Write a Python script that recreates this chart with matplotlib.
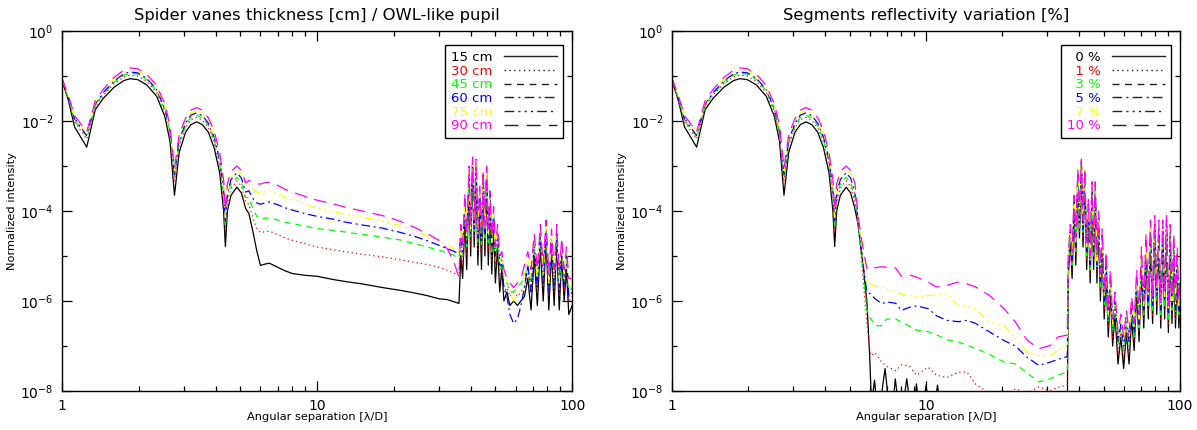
import matplotlib
matplotlib.use("Agg")
import matplotlib.pyplot as plt
from matplotlib.lines import Line2D
from matplotlib.ticker import LogLocator, FixedLocator, FuncFormatter, NullFormatter, LogFormatterSciNotation
import numpy as np

# all intensities are given as log10(normalized intensity)

# PSF core, same for both panels
core_sep = [1.00, 1.06, 1.12, 1.25, 1.35, 1.45, 1.60, 1.75, 1.85, 1.98, 2.15, 2.35, 2.53, 2.65, 2.76,
            2.88, 3.05, 3.20, 3.37, 3.55, 3.75, 3.95, 4.15, 4.30, 4.37, 4.45, 4.60, 4.85, 5.05, 5.25]
core_c0 = [-1.10, -1.55, -2.13, -2.58, -1.75, -1.50, -1.25, -1.10, -1.06, -1.08, -1.20, -1.45, -1.90, -2.45, -3.65,
           -2.70, -2.25, -2.08, -2.02, -2.08, -2.25, -2.60, -3.15, -4.00, -4.79, -4.00, -3.65, -3.47, -3.60, -3.95]
core_c1 = [-1.09, -1.52, -2.02, -2.40, -1.68, -1.43, -1.17, -1.02, -0.98, -1.00, -1.12, -1.37, -1.80, -2.30, -3.35,
           -2.55, -2.15, -1.97, -1.92, -1.98, -2.15, -2.48, -3.00, -3.75, -4.45, -3.80, -3.50, -3.33, -3.45, -3.80]
core_c2 = [-1.08, -1.50, -1.98, -2.35, -1.65, -1.40, -1.14, -0.98, -0.94, -0.96, -1.08, -1.33, -1.75, -2.25, -3.28,
           -2.48, -2.10, -1.92, -1.87, -1.93, -2.10, -2.42, -2.92, -3.62, -4.35, -3.70, -3.40, -3.25, -3.37, -3.70]
core_c3 = [-1.07, -1.48, -1.95, -2.32, -1.62, -1.37, -1.11, -0.95, -0.91, -0.93, -1.05, -1.30, -1.72, -2.20, -3.22,
           -2.42, -2.05, -1.87, -1.82, -1.88, -2.05, -2.36, -2.85, -3.52, -4.25, -3.60, -3.30, -3.15, -3.27, -3.58]
core_c4 = [-1.06, -1.46, -1.92, -2.28, -1.58, -1.33, -1.07, -0.91, -0.87, -0.89, -1.01, -1.26, -1.68, -2.15, -3.15,
           -2.36, -2.00, -1.82, -1.77, -1.83, -2.00, -2.30, -2.78, -3.42, -4.15, -3.50, -3.20, -3.07, -3.18, -3.48]
core_c5 = [-1.05, -1.44, -1.88, -2.24, -1.55, -1.30, -1.03, -0.87, -0.82, -0.84, -0.96, -1.21, -1.62, -2.10, -3.05,
           -2.30, -1.94, -1.76, -1.70, -1.76, -1.93, -2.22, -2.70, -3.30, -4.00, -3.40, -3.12, -3.00, -3.10, -3.38]

# left panel: spider vanes halo (5.4 - 36 lambda/D)
halo_sep_L = [5.40, 5.60, 5.80, 6.00, 6.25, 6.50, 7.00, 7.50, 8.00, 9.00, 10.0, 11.5, 13.0, 15.0, 18.0,
              21.0, 24.0, 27.0, 30.0, 32.5, 34.5, 35.8]
halo_L0 = [-4.05, -4.45, -4.88, -5.21, -5.18, -5.16, -5.25, -5.33, -5.39, -5.43, -5.45, -5.52, -5.57, -5.62, -5.70,
           -5.76, -5.82, -5.88, -5.95, -5.97, -6.02, -6.05]
halo_L1 = [-3.85, -4.15, -4.38, -4.48, -4.46, -4.45, -4.52, -4.60, -4.65, -4.73, -4.80, -4.86, -4.91, -4.96, -5.02,
           -5.08, -5.14, -5.19, -5.25, -5.32, -5.38, -5.43]
halo_L2 = [-3.70, -3.95, -4.12, -4.18, -4.16, -4.15, -4.20, -4.25, -4.28, -4.34, -4.39, -4.43, -4.47, -4.52, -4.58,
           -4.64, -4.72, -4.80, -4.87, -4.93, -4.99, -5.05]
halo_L3 = [-3.55, -3.72, -3.82, -3.85, -3.82, -3.80, -3.86, -3.93, -3.98, -4.06, -4.12, -4.18, -4.25, -4.31, -4.38,
           -4.47, -4.56, -4.66, -4.76, -4.84, -4.90, -4.95]
halo_L4 = [-3.42, -3.52, -3.58, -3.60, -3.57, -3.55, -3.62, -3.69, -3.74, -3.85, -3.94, -4.01, -4.08, -4.14, -4.22,
           -4.32, -4.43, -4.55, -4.66, -4.76, -4.85, -4.92]
halo_L5 = [-3.32, -3.38, -3.40, -3.40, -3.37, -3.36, -3.43, -3.52, -3.58, -3.68, -3.76, -3.84, -3.92, -4.00, -4.10,
           -4.22, -4.36, -4.50, -4.65, -4.85, -5.15, -5.45]

# left panel: segment speckles (36 - 100 lambda/D)
spk_sep_L = [36.0, 36.6, 37.2, 38.0, 38.6, 39.4, 40.0, 40.7, 41.3, 42.0, 42.7, 43.4, 44.1, 44.8, 45.5, 46.2,
             46.9, 47.6, 48.4, 49.2, 50.0, 51.0, 52.0, 53.0, 54.0, 55.5, 57.0, 59.0, 61.0, 63.0, 65.0, 67.0,
             69.0, 71.0, 73.0, 75.0, 77.0, 79.0, 81.0, 83.0, 85.0, 87.0, 89.0, 91.0, 93.0, 95.0, 97.0, 100.0]
spk_L0 = [-6.05, -5.0, -5.5, -4.2, -5.3, -3.4, -5.0, -3.0, -4.8, -3.1, -5.2, -3.8, -5.3, -3.4, -5.0, -3.3,
          -5.2, -3.9, -5.4, -4.3, -5.6, -4.8, -5.8, -5.3, -6.0, -5.8, -6.1, -6.0, -6.1, -6.0, -5.9, -5.5,
          -6.2, -5.0, -6.1, -4.8, -6.0, -4.6, -6.2, -4.9, -6.1, -4.7, -6.2, -5.0, -6.0, -5.3, -6.3, -6.1]
spk_L1 = [-5.45, -4.8, -5.2, -4.0, -5.0, -3.3, -4.8, -2.95, -4.6, -3.05, -4.9, -3.7, -5.0, -3.3, -4.8, -3.2,
          -4.9, -3.8, -5.1, -4.2, -5.3, -4.7, -5.5, -5.1, -5.8, -5.7, -5.9, -5.8, -5.9, -5.8, -5.7, -5.3,
          -5.8, -4.9, -5.8, -4.7, -5.7, -4.5, -5.9, -4.8, -5.8, -4.6, -5.9, -4.9, -5.8, -5.2, -6.0, -5.9]
spk_L2 = [-5.05, -4.6, -5.0, -3.9, -4.8, -3.25, -4.6, -2.95, -4.5, -3.0, -4.7, -3.6, -4.8, -3.25, -4.6, -3.15,
          -4.7, -3.7, -4.9, -4.1, -5.1, -4.6, -5.3, -5.0, -5.6, -5.6, -5.8, -5.8, -5.7, -5.6, -5.5, -5.2,
          -5.6, -4.8, -5.6, -4.6, -5.5, -4.4, -5.7, -4.7, -5.6, -4.5, -5.7, -4.8, -5.6, -5.1, -5.8, -5.7]
spk_L3 = [-4.95, -4.5, -4.9, -3.8, -4.7, -3.2, -4.5, -2.9, -4.4, -2.95, -4.6, -3.55, -4.7, -3.2, -4.5, -3.1,
          -4.6, -3.65, -4.8, -4.05, -5.0, -4.5, -5.2, -5.2, -5.7, -5.9, -6.3, -6.5, -6.4, -6.1, -5.7, -5.2,
          -5.8, -4.7, -5.7, -4.5, -5.6, -4.4, -5.8, -4.6, -5.7, -4.5, -5.8, -4.8, -5.7, -5.0, -5.9, -5.8]
spk_L4 = [-4.92, -4.4, -4.8, -3.7, -4.6, -3.1, -4.4, -2.85, -4.3, -2.9, -4.5, -3.5, -4.6, -3.15, -4.4, -3.05,
          -4.5, -3.6, -4.7, -4.0, -4.9, -4.4, -5.1, -5.0, -5.4, -5.6, -5.8, -6.0, -5.9, -5.7, -5.4, -5.0,
          -5.5, -4.6, -5.5, -4.4, -5.4, -4.3, -5.6, -4.5, -5.5, -4.4, -5.6, -4.7, -5.5, -4.9, -5.7, -5.6]
spk_L5 = [-5.45, -4.3, -4.7, -3.6, -4.5, -3.0, -4.3, -2.8, -4.2, -2.85, -4.4, -3.45, -4.5, -3.1, -4.3, -3.0,
          -4.4, -3.55, -4.6, -3.9, -4.8, -4.3, -5.0, -4.9, -5.3, -5.5, -5.6, -5.7, -5.6, -5.5, -5.2, -4.9,
          -5.3, -4.5, -5.3, -4.3, -5.2, -4.2, -5.4, -4.4, -5.3, -4.3, -5.4, -4.6, -5.3, -4.8, -5.5, -5.5]

# right panel: reflectivity halo; the 0 % curve has its own samples (small rings near 1e-8)
halo_sep_R0 = [5.40, 5.60, 5.85, 6.00, 6.10, 6.27, 6.45, 6.60, 6.90, 7.20, 7.35, 7.57, 7.85, 8.05, 8.40,
               8.75, 8.95, 9.17, 9.45, 9.70, 10.0, 10.4, 10.7, 11.1, 11.5, 12.0, 35.8]
halo_R0 = [-4.30, -5.00, -6.00, -7.20, -8.30, -7.76, -8.50, -8.30, -7.50, -8.50, -8.50, -7.73, -8.50, -8.50, -7.73,
           -8.50, -8.50, -7.84, -8.50, -8.50, -7.87, -8.50, -8.50, -7.87, -8.50, -8.60, -8.60]
halo_sep_R = [5.40, 5.60, 5.85, 6.05, 6.3, 6.7, 7.0, 7.6, 8.0, 8.6, 9.2, 10.2, 11.0, 12.1, 13.4, 14.5, 15.7,
              17.7, 20.3, 22.5, 25.0, 27.8, 30.8, 33.0, 35.8]
halo_R1 = [-4.30, -5.20, -6.50, -7.21, -7.15, -7.36, -7.45, -7.55, -7.42, -7.45, -7.65, -7.47, -7.65, -7.70, -7.58,
           -7.58, -7.85, -8.05, -8.10, -7.95, -8.05, -7.91, -7.99, -7.92, -7.87]
halo_R2 = [-4.25, -5.10, -6.20, -6.38, -6.55, -6.55, -6.40, -6.40, -6.47, -6.56, -6.65, -6.68, -6.75, -6.86, -6.91,
           -6.98, -7.06, -7.18, -7.36, -7.40, -7.60, -7.80, -7.73, -7.65, -7.58]
halo_R3 = [-4.20, -5.00, -5.80, -5.84, -5.95, -6.06, -6.02, -6.05, -6.21, -6.14, -6.11, -6.17, -6.33, -6.43, -6.46,
           -6.43, -6.50, -6.68, -6.88, -7.00, -7.25, -7.43, -7.36, -7.30, -7.24]
halo_R4 = [-4.15, -4.85, -5.55, -5.62, -5.66, -5.69, -5.74, -5.80, -5.85, -5.88, -5.91, -5.88, -5.86, -5.84, -6.10,
           -6.12, -6.17, -6.47, -6.54, -6.84, -7.13, -7.21, -7.21, -7.10, -7.02]
halo_R5 = [-4.10, -4.70, -5.28, -5.30, -5.26, -5.24, -5.25, -5.27, -5.45, -5.42, -5.47, -5.58, -5.69, -5.65, -5.58,
           -5.62, -5.69, -5.87, -6.17, -6.47, -6.87, -7.06, -6.99, -6.80, -6.76]

# right panel: segment speckles
spk_sep_R = [36.0, 36.3, 37.0, 37.6, 38.3, 38.9, 39.6, 40.2, 40.9, 41.5, 42.2, 42.9, 43.6, 44.3, 45.0, 45.7,
             46.4, 47.1, 47.8, 48.6, 49.4, 50.3, 51.2, 52.2, 53.2, 54.3, 55.5, 57.0, 58.5, 60.0, 61.5, 63.0,
             64.5, 66.0, 67.5, 69.0, 70.5, 72.0, 73.5, 75.0, 76.5, 78.0, 79.5, 81.0, 82.5, 84.0, 85.5, 87.0,
             88.5, 90.0, 91.5, 93.0, 94.5, 96.0, 97.5, 99.0, 100.0]
spk_R0 = [-8.6, -5.5, -4.6, -5.5, -3.9, -5.2, -3.3, -4.6, -3.0, -4.8, -3.3, -5.3, -4.0, -5.6, -3.6, -5.3,
          -3.6, -5.6, -4.3, -6.0, -4.8, -6.4, -5.4, -6.8, -5.8, -7.0, -6.3, -7.4, -6.8, -7.5, -6.7, -7.4,
          -6.4, -7.1, -5.8, -6.9, -5.3, -6.6, -5.0, -6.4, -4.7, -6.5, -4.5, -6.3, -4.7, -6.6, -4.6, -6.4,
          -4.4, -6.7, -4.8, -6.5, -5.0, -6.6, -5.3, -6.6, -6.0]
spk_R1 = [-7.87, -5.4, -4.5, -5.3, -3.85, -5.0, -3.25, -4.5, -2.95, -4.6, -3.25, -5.1, -3.95, -5.4, -3.55, -5.1,
          -3.55, -5.4, -4.2, -5.8, -4.7, -6.2, -5.3, -6.6, -5.7, -6.8, -6.2, -7.2, -6.7, -7.3, -6.6, -7.2,
          -6.3, -6.9, -5.7, -6.7, -5.2, -6.4, -4.9, -6.2, -4.6, -6.3, -4.4, -6.1, -4.6, -6.4, -4.5, -6.2,
          -4.3, -6.5, -4.7, -6.3, -4.9, -6.4, -5.2, -6.4, -5.9]
spk_R2 = [-7.58, -5.3, -4.45, -5.2, -3.8, -4.9, -3.2, -4.4, -2.95, -4.5, -3.2, -5.0, -3.9, -5.3, -3.5, -5.0,
          -3.5, -5.3, -4.15, -5.7, -4.6, -6.1, -5.2, -6.5, -5.6, -6.7, -6.1, -7.0, -6.6, -7.1, -6.5, -7.0,
          -6.2, -6.8, -5.6, -6.6, -5.1, -6.3, -4.8, -6.1, -4.5, -6.2, -4.3, -6.0, -4.5, -6.3, -4.4, -6.1,
          -4.25, -6.4, -4.6, -6.2, -4.8, -6.3, -5.1, -6.3, -5.8]
spk_R3 = [-7.24, -5.2, -4.4, -5.1, -3.75, -4.8, -3.15, -4.3, -2.9, -4.4, -3.15, -4.9, -3.85, -5.2, -3.45, -4.9,
          -3.45, -5.2, -4.1, -5.6, -4.5, -6.0, -5.1, -6.4, -5.5, -6.6, -6.0, -6.9, -6.5, -7.0, -6.4, -6.9,
          -6.1, -6.7, -5.5, -6.5, -5.0, -6.2, -4.7, -6.0, -4.4, -6.1, -4.25, -5.9, -4.4, -6.2, -4.35, -6.0,
          -4.2, -6.3, -4.5, -6.1, -4.7, -6.2, -5.0, -6.2, -5.7]
spk_R4 = [-7.02, -5.1, -4.35, -5.0, -3.7, -4.7, -3.1, -4.2, -2.88, -4.3, -3.1, -4.8, -3.8, -5.1, -3.4, -4.8,
          -3.4, -5.1, -4.05, -5.5, -4.45, -5.9, -5.0, -6.3, -5.4, -6.5, -5.9, -6.8, -6.4, -6.9, -6.3, -6.8,
          -6.0, -6.6, -5.4, -6.4, -4.9, -6.1, -4.6, -5.9, -4.3, -6.0, -4.2, -5.8, -4.3, -6.1, -4.3, -5.9,
          -4.15, -6.2, -4.4, -6.0, -4.6, -6.1, -4.9, -6.1, -5.6]
spk_R5 = [-6.76, -5.0, -4.3, -4.9, -3.65, -4.6, -3.05, -4.1, -2.85, -4.2, -3.05, -4.7, -3.75, -5.0, -3.35, -4.7,
          -3.35, -5.0, -4.0, -5.4, -4.4, -5.8, -4.9, -6.2, -5.3, -6.4, -5.8, -6.7, -6.3, -6.8, -6.2, -6.7,
          -5.9, -6.5, -5.3, -6.3, -4.8, -6.0, -4.5, -5.8, -4.2, -5.9, -4.1, -5.7, -4.2, -6.0, -4.2, -5.8,
          -4.1, -6.1, -4.3, -5.9, -4.5, -6.0, -4.8, -6.0, -5.5]

labels_L = ['15 cm', '30 cm', '45 cm', '60 cm', '75 cm', '90 cm']
labels_R = ['\u20070 %', '\u20071 %', '\u20073 %', '\u20075 %', '\u20077 %', '10 %']
colors = ['black', '#ff0000', '#00ff00', '#0000ff', '#ffff00', '#ff00ff']
styles = ['-', (0, (1, 2.5)), (0, (5, 4)), (0, (7, 3, 1.5, 3)), (0, (7, 3, 1.5, 3, 1.5, 3, 1.5, 3)), (0, (10, 6))]

cores = [core_c0, core_c1, core_c2, core_c3, core_c4, core_c5]
left = [(halo_sep_L, halo_L0, spk_L0), (halo_sep_L, halo_L1, spk_L1), (halo_sep_L, halo_L2, spk_L2),
        (halo_sep_L, halo_L3, spk_L3), (halo_sep_L, halo_L4, spk_L4), (halo_sep_L, halo_L5, spk_L5)]
right = [(halo_sep_R0, halo_R0, spk_R0), (halo_sep_R, halo_R1, spk_R1), (halo_sep_R, halo_R2, spk_R2),
         (halo_sep_R, halo_R3, spk_R3), (halo_sep_R, halo_R4, spk_R4), (halo_sep_R, halo_R5, spk_R5)]

plt.rcParams['font.family'] = 'DejaVu Sans'
fig = plt.figure(figsize=(11.97, 4.30), dpi=100)
ax1 = fig.add_axes([0.0518, 0.0907, 0.4262, 0.8372])
ax2 = fig.add_axes([0.5614, 0.0907, 0.4244, 0.8372])


def draw(ax, parts, spk_sep, labels, title):
    for i, (hsep, halo, spk) in enumerate(parts):
        x = list(core_sep) + list(hsep) + list(spk_sep)
        y = 10.0 ** np.array(cores[i] + halo + spk)
        ax.plot(x, y, color=colors[i], ls=styles[i], lw=0.9)
    ax.set_xscale('log')
    ax.set_yscale('log')
    ax.set_xlim(1, 100)
    ax.set_ylim(1e-8, 1)
    ax.xaxis.set_major_locator(LogLocator(base=10))
    ax.xaxis.set_minor_locator(LogLocator(base=10, subs=np.arange(2, 10)))
    ax.xaxis.set_major_formatter(FuncFormatter(lambda v, p: '%g' % v))
    ax.xaxis.set_minor_formatter(NullFormatter())
    ax.yaxis.set_major_locator(FixedLocator([1e-8, 1e-6, 1e-4, 1e-2, 1]))
    ax.yaxis.set_minor_locator(FixedLocator([1e-7, 1e-5, 1e-3, 1e-1]))
    ax.yaxis.set_major_formatter(LogFormatterSciNotation())
    ax.yaxis.set_minor_formatter(NullFormatter())
    ax.tick_params(which='both', direction='in', top=True, right=True, labelsize=10, width=0.9)
    ax.tick_params(which='major', length=7, pad=6)
    ax.tick_params(which='minor', length=3.5)
    for s in ax.spines.values():
        s.set_linewidth(1.0)
    ax.set_title(title, fontsize=11.8, pad=8)
    ax.set_xlabel('Angular separation [\u03bb/D]', fontsize=8.2, labelpad=-1)
    ax.set_ylabel('Normalized intensity', fontsize=8.2, labelpad=2)
    handles = [Line2D([], [], color='#222222', ls=styles[i], lw=1.0) for i in range(6)]
    leg = ax.legend(handles, labels, loc='upper right', bbox_to_anchor=(0.982, 0.961), borderaxespad=0,
                    markerfirst=False, fontsize=9.5, labelspacing=0.05, handlelength=4.0, handletextpad=0.9,
                    borderpad=0.45, frameon=True, fancybox=False, framealpha=1, edgecolor='black',
                    labelcolor=colors)
    leg.get_frame().set_linewidth(1.0)


draw(ax1, left, spk_sep_L, labels_L, 'Spider vanes thickness [cm] / OWL-like pupil')
draw(ax2, right, spk_sep_R, labels_R, 'Segments reflectivity variation [%]')

fig.savefig('out.png', dpi=100)
